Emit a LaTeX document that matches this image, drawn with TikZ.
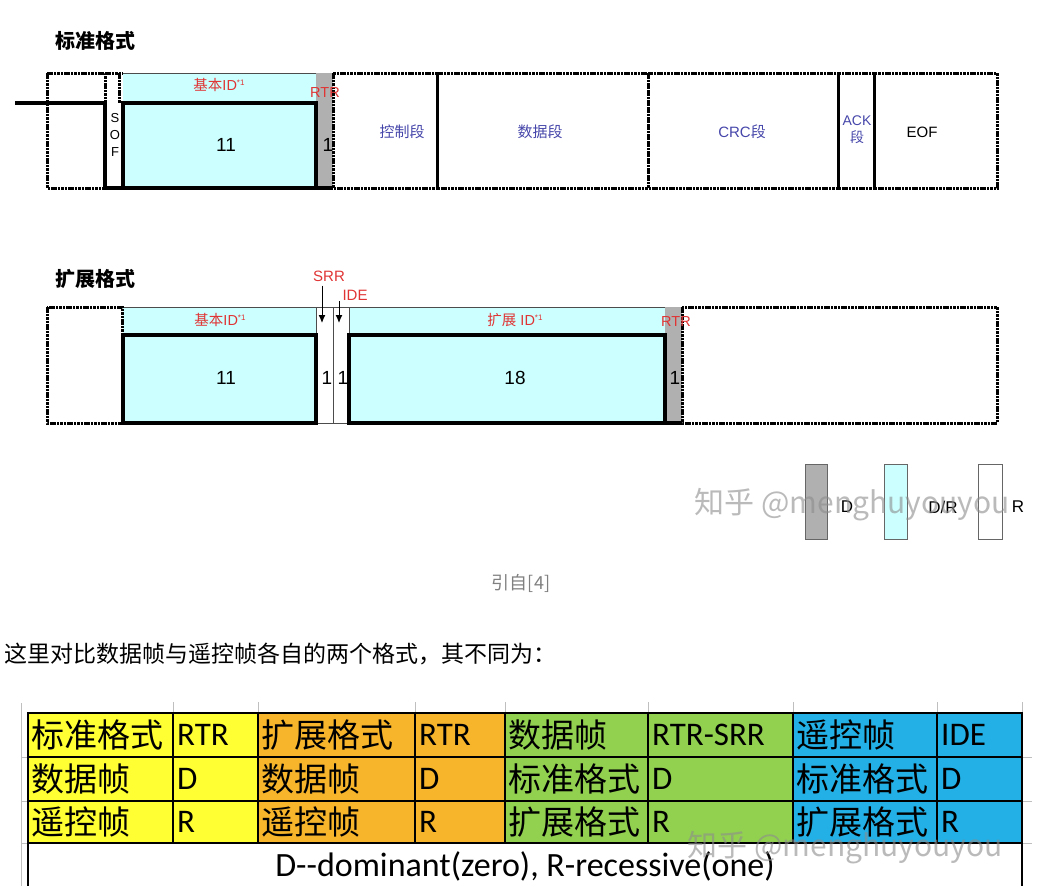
\documentclass[tikz,border=0pt]{standalone}
\usepackage{fontspec}
\setmainfont{Liberation Sans}
\newfontfamily\cjk{Noto Sans CJK SC}
\newfontfamily\calib{Carlito}
\usetikzlibrary{arrows.meta}
\definecolor{idcyan}{HTML}{CCFFFF}
\definecolor{bitgray}{HTML}{B0B0B0}
\definecolor{lblred}{HTML}{E03434}
\definecolor{lblblue}{HTML}{4646AA}
\definecolor{tyellow}{HTML}{FFFF33}
\definecolor{torange}{HTML}{F7B52C}
\definecolor{tgreen}{HTML}{92D050}
\definecolor{tblue}{HTML}{22B0E6}
\tikzset{
  dotbox/.style={draw, line width=3pt, dash pattern=on 2.6pt off 0.8pt},
  signal/.style={line width=4pt},
  thin rule/.style={draw=black!70, line width=0.7pt},
  redlbl/.style={text=lblred, inner sep=0pt, font=\fontsize{14.5}{14.5}\selectfont},
  bluelbl/.style={text=lblblue, inner sep=0pt, font=\fontsize{15}{15}\selectfont},
  bitnum/.style={inner sep=0pt, font=\fontsize{19}{19}\selectfont},
  title/.style={anchor=west, inner sep=0pt, font=\cjk\bfseries\fontsize{20}{20}\selectfont},
  cjkcell/.style={anchor=west, inner sep=0pt, font=\cjk\fontsize{33}{33}\selectfont},
  latcell/.style={anchor=west, inner sep=0pt, font=\calib\fontsize{33}{33}\selectfont},
  keybox/.style={draw=black!60, line width=1pt},
  wmark/.style={text=black!45, opacity=0.6, inner sep=0pt, font=\cjk\fontsize{30}{30}\selectfont},
}
\begin{document}
\begin{tikzpicture}[x=1pt,y=-1pt]
\useasboundingbox (0,0) rectangle (1044,886);
\node[title] (stdtitle) at (55,41) {标准格式};
\fill[idcyan] (123,73) rectangle (316,188);
\fill[bitgray] (316,73) rectangle (333,188);
\draw[thin rule] (123,73) -- (316,73);
\draw[dotbox] (47,73) rectangle (105,188);
\draw[dotbox] (105,73) -- (123,73);
\draw[dotbox] (119,73) -- (119,103);
\draw[dotbox] (333,73) rectangle (437,188);
\draw[dotbox] (437,73) rectangle (648,188);
\draw[dotbox] (648,73) rectangle (838,188);
\draw[dotbox] (838,73) rectangle (874,188);
\draw[dotbox] (874,73) rectangle (997,188);
\draw[signal] (15,103) -- (105,103) -- (105,188) -- (333,188);
\draw[signal] (123,103) rectangle (316,188);
\node[inner sep=0pt, align=center, font=\fontsize{13}{17}\selectfont] (sof) at (115,135) {S\\O\\F};
\node[redlbl] (stdbaselbl) at (219,85) {{\cjk 基本}ID\raisebox{5pt}{\fontsize{8}{8}\selectfont *1}};
\node[redlbl] (stdrtrlbl) at (325,93) {RTR};
\node[bitnum] (stdbase) at (226,145) {11};
\node[bitnum] (stdrtr) at (328,145) {1};
\node[bluelbl] (ctrl) at (402,132) {\cjk 控制段};
\node[bluelbl] (data) at (540,132) {\cjk 数据段};
\node[bluelbl] (crc) at (742,132) {CRC{\cjk 段}};
\node[bluelbl, align=center, font=\fontsize{14}{17}\selectfont] (ack) at (857,130) {ACK\\{\cjk 段}};
\node[bitnum, font=\fontsize{15}{15}\selectfont] (eof) at (922,132) {EOF};
\node[title] (exttitle) at (55,279) {扩展格式};
\fill[idcyan] (123,307) rectangle (316,423);
\fill[idcyan] (349,307) rectangle (665,423);
\fill[bitgray] (665,307) rectangle (682,423);
\draw[thin rule] (122,307) -- (665,307);
\draw[thin rule] (316,307) -- (316,423) -- (349,423) -- (349,307);
\draw[thin rule] (333,307) -- (333,423);
\draw[dotbox] (47,307) rectangle (122,423);
\draw[dotbox] (682,307) rectangle (997,423);
\draw[signal] (123,335) rectangle (316,423);
\draw[signal] (349,335) rectangle (665,423);
\draw[signal] (665,423) -- (682,423);
\node[redlbl] (extbaselbl) at (220,320) {{\cjk 基本}ID\raisebox{5pt}{\fontsize{8}{8}\selectfont *1}};
\node[redlbl] (extidlbl) at (515,320) {{\cjk 扩展} ID\raisebox{5pt}{\fontsize{8}{8}\selectfont *1}};
\node[redlbl, font=\fontsize{15}{15}\selectfont] (srrlbl) at (329,276) {SRR};
\node[redlbl, font=\fontsize{15}{15}\selectfont] (idelbl) at (355,295) {IDE};
\node[redlbl] (extrtrlbl) at (676,322) {RTR};
\coordinate (srrtip) at (322,323);
\coordinate (idetip) at (339,323);
\draw[-{Latex[length=8pt,width=7pt]}, line width=1pt] (srrlbl.south -| srrtip) ++(0,4) -- (srrtip);
\draw[-{Latex[length=8pt,width=7pt]}, line width=1pt] (339,301) -- (idetip);
\node[bitnum] (extbase) at (226,378) {11};
\node[bitnum] (srrbit) at (327,378) {1};
\node[bitnum] (idebit) at (343,378) {1};
\node[bitnum] (extid) at (515,378) {18};
\node[bitnum] (extrtr) at (675,378) {1};
\draw[keybox, fill=bitgray] (805,464) rectangle (827,539);
\draw[keybox, fill=idcyan] (884,464) rectangle (907,539);
\draw[keybox, fill=white] (978,464) rectangle (1002,539);
\node[bitnum, font=\fontsize{17}{17}\selectfont] (keyd) at (847,507) {D};
\node[bitnum, font=\fontsize{17}{17}\selectfont] (keydr) at (943,507) {D/R};
\node[bitnum, font=\fontsize{17}{17}\selectfont] (keyr) at (1018,507) {R};
\node[wmark] (mark1) at (852,505) {知乎 @menghuyouyou};
\node[inner sep=0pt, text=black!50, font=\cjk\fontsize{18}{18}\selectfont] (cite) at (521,583) {引自[4]};
\node[anchor=west, inner sep=0pt, font=\cjk\fontsize{23}{23}\selectfont] (intro) at (4,654) {这里对比数据帧与遥控帧各自的两个格式，其不同为：};
\draw[black!25, line width=1pt] (21,703) -- (21,886);
\draw[black!25, line width=1pt] (173,702) -- (173,713) (258,702) -- (258,713) (415,702) -- (415,713) (505,702) -- (505,713) (648,702) -- (648,713) (793,702) -- (793,713) (937,702) -- (937,713) (1022,702) -- (1022,713);
\draw[black!25, line width=1pt] (21,757) -- (28,757) (21,801) -- (28,801) (21,843) -- (28,843) (1022,757) -- (1032,757) (1022,801) -- (1032,801) (1022,843) -- (1032,843);
\fill[tyellow] (28,713) rectangle (258,843);
\fill[torange] (258,713) rectangle (505,843);
\fill[tgreen] (505,713) rectangle (793,843);
\fill[tblue] (793,713) rectangle (1022,843);
\draw[line width=1.2pt] (28,757) -- (1022,757) (28,801) -- (1022,801) (28,843) -- (1022,843);
\draw[line width=1.2pt] (173,713) -- (173,843) (258,713) -- (258,843) (415,713) -- (415,843) (505,713) -- (505,843) (648,713) -- (648,843) (793,713) -- (793,843) (937,713) -- (937,843);
\draw[line width=2pt] (28,886) -- (28,713) -- (1022,713) -- (1022,886);
\node[cjkcell] (c11) at (31,735) {标准格式};
\node[latcell] (c12) at (177,735) {RTR};
\node[cjkcell] (c13) at (261,735) {扩展格式};
\node[latcell] (c14) at (419,735) {RTR};
\node[cjkcell] (c15) at (508,735) {数据帧};
\node[latcell] (c16) at (652,735) {RTR-SRR};
\node[cjkcell] (c17) at (796,735) {遥控帧};
\node[latcell] (c18) at (941,735) {IDE};
\node[cjkcell] (c21) at (31,779) {数据帧};
\node[latcell] (c22) at (177,779) {D};
\node[cjkcell] (c23) at (261,779) {数据帧};
\node[latcell] (c24) at (419,779) {D};
\node[cjkcell] (c25) at (508,779) {标准格式};
\node[latcell] (c26) at (652,779) {D};
\node[cjkcell] (c27) at (796,779) {标准格式};
\node[latcell] (c28) at (941,779) {D};
\node[cjkcell] (c31) at (31,822) {遥控帧};
\node[latcell] (c32) at (177,822) {R};
\node[cjkcell] (c33) at (261,822) {遥控帧};
\node[latcell] (c34) at (419,822) {R};
\node[cjkcell] (c35) at (508,822) {扩展格式};
\node[latcell] (c36) at (652,822) {R};
\node[cjkcell] (c37) at (796,822) {扩展格式};
\node[latcell] (c38) at (941,822) {R};
\node[latcell, anchor=center, font=\calib\fontsize{34}{34}\selectfont] (note) at (525,866) {D-\kern0pt-dominant(zero), R-recessive(one)};
\node[wmark] (mark2) at (845,848) {知乎 @menghuyouyou};
\end{tikzpicture}
\end{document}
